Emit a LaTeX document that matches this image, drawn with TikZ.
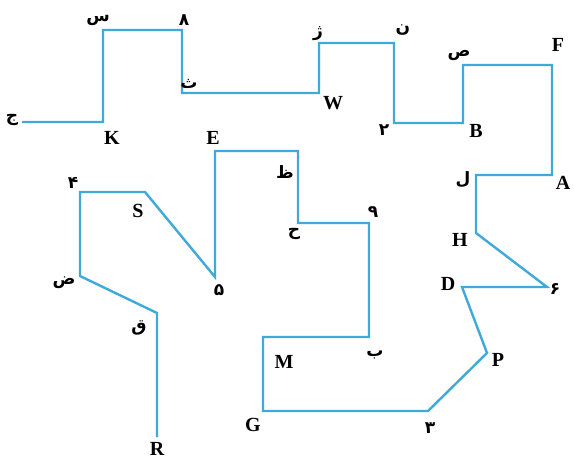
\documentclass[tikz,border=0pt]{standalone}
\usepackage{fontspec}
\setmainfont{Liberation Serif}
\newfontfamily\fa[Script=Arabic]{DejaVu Sans}
\TeXXeTstate=1
\definecolor{pathblue}{HTML}{3FA9DA}
\tikzset{
  route/.style={draw=pathblue, line width=2.4pt, line join=miter},
  lat/.style={font=\fontsize{20}{20}\selectfont\bfseries, inner sep=0pt},
  far/.style={font=\fa\bfseries\fontsize{17}{17}\selectfont, inner sep=0pt},
}
\newcommand{\fr}[1]{\beginR #1\endR}
\begin{document}
\begin{tikzpicture}[x=1pt,y=-1pt]
\useasboundingbox (0,0) rectangle (574,463);
% vertices
\coordinate (vjim) at (22,122);
\coordinate (vK) at (103,122);
\coordinate (vsin) at (103,30);
\coordinate (v8) at (182,30);
\coordinate (vthe) at (182,93);
\coordinate (vW) at (319,93);
\coordinate (vzhe) at (319,43);
\coordinate (vnun) at (394,43);
\coordinate (v2) at (394,123);
\coordinate (vB) at (463,123);
\coordinate (vsad) at (463,65);
\coordinate (vF) at (552,65);
\coordinate (vA) at (552,175);
\coordinate (vlam) at (476,175);
\coordinate (vH) at (476,233);
\coordinate (v6) at (547,287);
\coordinate (vD) at (462,287);
\coordinate (vP) at (487,353);
\coordinate (v3) at (428,411);
\coordinate (vG) at (263,411);
\coordinate (vM) at (263,337);
\coordinate (vbe) at (369,337);
\coordinate (v9) at (369,223);
\coordinate (vhe) at (298,223);
\coordinate (vza) at (298,151);
\coordinate (vE) at (215,151);
\coordinate (v5) at (215,277);
\coordinate (vS) at (145,192);
\coordinate (v4) at (80,192);
\coordinate (vzad) at (80,276);
\coordinate (vqaf) at (157,313);
\coordinate (vR) at (157,437);
% route
\draw[route] (vjim) -- (vK) -- (vsin) -- (v8) -- (vthe) -- (vW) -- (vzhe) -- (vnun)
  -- (v2) -- (vB) -- (vsad) -- (vF) -- (vA) -- (vlam) -- (vH) -- (v6) -- (vD)
  -- (vP) -- (v3) -- (vG) -- (vM) -- (vbe) -- (v9) -- (vhe) -- (vza) -- (vE)
  -- (v5) -- (vS) -- (v4) -- (vzad) -- (vqaf) -- (vR);
% latin labels
\node[lat] (lK) at (112,138) {K};
\node[lat] (lW) at (333,103) {W};
\node[lat] (lB) at (476,131) {B};
\node[lat] (lF) at (558,45) {F};
\node[lat] (lA) at (563,183) {A};
\node[lat] (lH) at (460,240) {H};
\node[lat] (lD) at (448,284) {D};
\node[lat] (lP) at (498,360) {P};
\node[lat] (lG) at (253,425) {G};
\node[lat] (lM) at (284,362) {M};
\node[lat] (lE) at (213,138) {E};
\node[lat] (lS) at (138,211) {S};
\node[lat] (lR) at (157,449) {R};
% persian labels
\node[far] (ljim) at (12,120) {\fr{ج}};
\node[far] (lsin) at (98,20) {\fr{س}};
\node[far] (l8) at (184,20) {\fr{۸}};
\node[far] (lthe) at (189,84) {\fr{ث}};
\node[far] (lzhe) at (318,34) {\fr{ژ}};
\node[far] (lnun) at (403,30) {\fr{ن}};
\node[far] (l2) at (384,130) {\fr{۲}};
\node[far] (lsad) at (459,55) {\fr{ص}};
\node[far] (llam) at (463,180) {\fr{ل}};
\node[far] (l6) at (555,289) {\fr{۶}};
\node[far] (l3) at (430,428) {\fr{۳}};
\node[far] (lbe) at (375,355) {\fr{ب}};
\node[far] (l9) at (373,212) {\fr{۹}};
\node[far] (lhe) at (294,234) {\fr{ح}};
\node[far] (lza) at (285,172) {\fr{ظ}};
\node[far] (l5) at (219,290) {\fr{۵}};
\node[far] (l4) at (73,183) {\fr{۴}};
\node[far] (lzad) at (64,283) {\fr{ض}};
\node[far] (lqaf) at (139,328) {\fr{ق}};
\end{tikzpicture}
\end{document}
